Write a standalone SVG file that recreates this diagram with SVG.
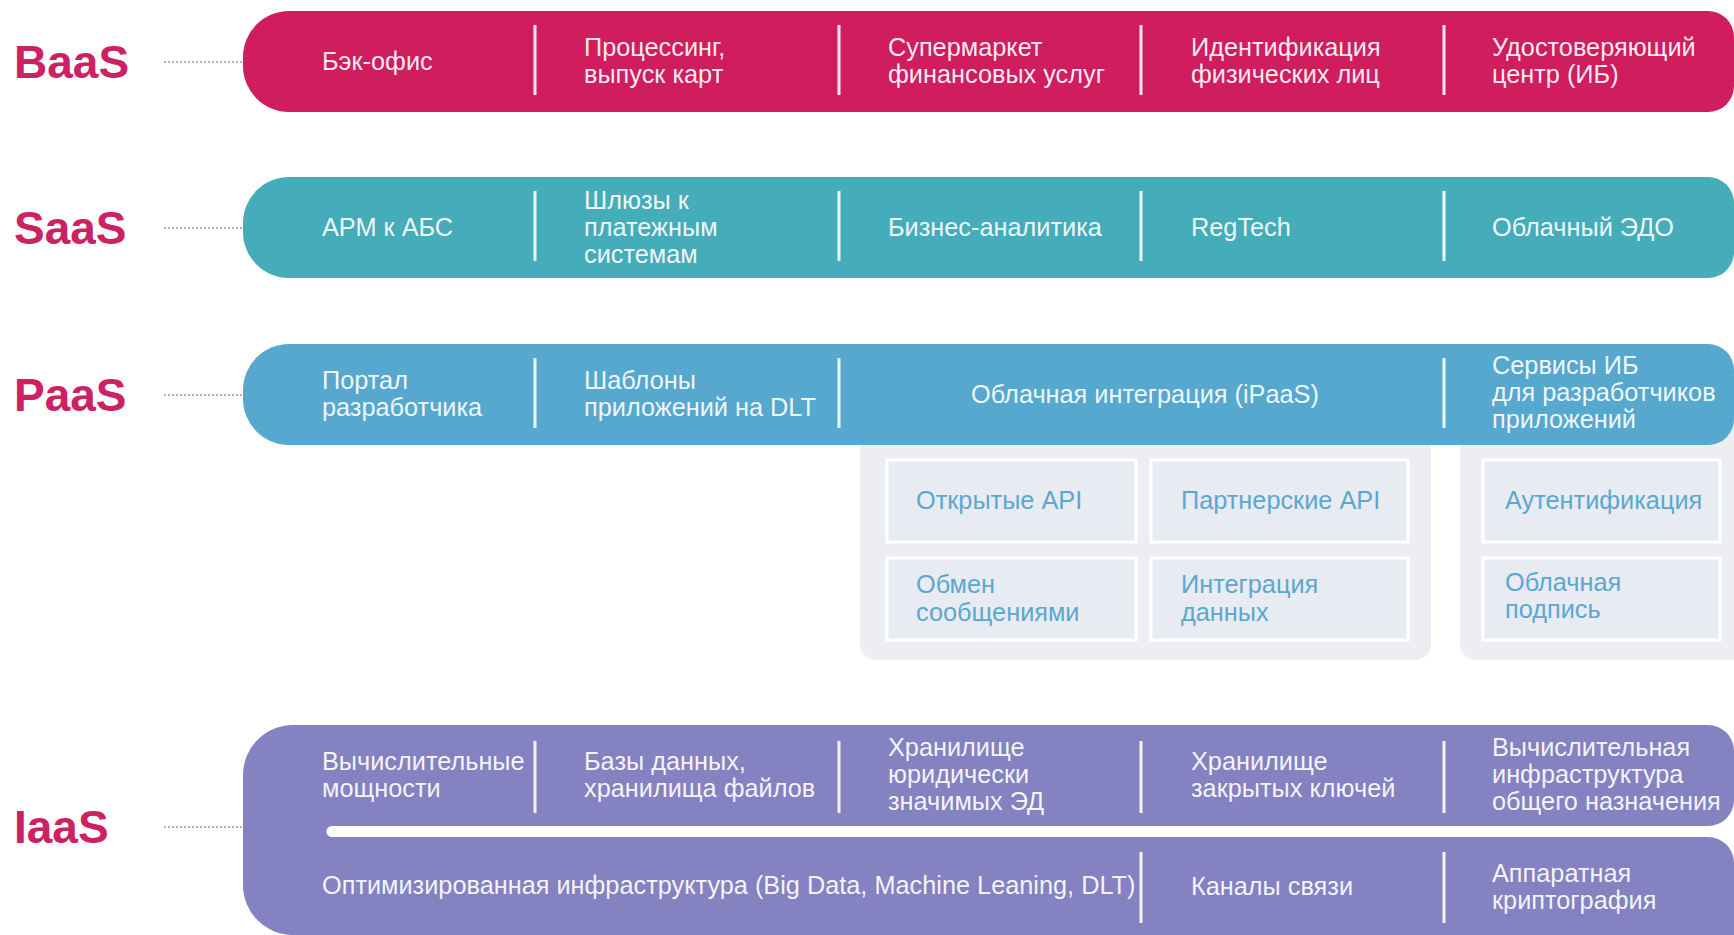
<svg xmlns="http://www.w3.org/2000/svg" width="1734" height="935" viewBox="0 0 1734 935">
<style>
.lbl{font-family:"Liberation Sans",Arial,sans-serif;font-weight:bold;font-size:46px;fill:#cc2162}
.t{font-family:"Liberation Sans",Arial,sans-serif;font-size:25.3px;fill:#ffffff;fill-opacity:0.93}
.st{font-family:"Liberation Sans",Arial,sans-serif;font-size:25.3px;fill:#5aa8cf}
.div{stroke:#ffffff;stroke-opacity:0.9;stroke-width:3}
.dot{stroke:#c9a9b6;stroke-width:2;stroke-dasharray:2 2}
.panel{fill:#eceef4}
.box{fill:#e9ebf2;stroke:#ffffff;stroke-width:3}
</style>
<rect width="1734" height="935" fill="#ffffff"/>

<g id="connectors">
<line class="dot" x1="164" y1="62" x2="243" y2="62"/>
<line class="dot" x1="164" y1="228" x2="243" y2="228"/>
<line class="dot" x1="164" y1="395" x2="243" y2="395"/>
<line class="dot" x1="164" y1="827" x2="243" y2="827"/>
</g>

<g id="labels">
<text class="lbl" x="14" y="78">BaaS</text>
<text class="lbl" x="14" y="244">SaaS</text>
<text class="lbl" x="14" y="411">PaaS</text>
<text class="lbl" x="14" y="843">IaaS</text>
</g>

<g id="paas-subpanels">
<rect class="panel" x="860" y="420" width="571" height="240" rx="16"/>
<rect class="panel" x="1460" y="420" width="300" height="240" rx="16"/>
<g id="open-api"><rect class="box" x="887" y="460" width="249" height="82"/><text class="st" x="916" y="509">Открытые API</text></g>
<g id="partner-api"><rect class="box" x="1151" y="460" width="257" height="82"/><text class="st" x="1181" y="509">Партнерские API</text></g>
<g id="messaging"><rect class="box" x="887" y="558" width="249" height="82"/><text class="st" x="916" y="593">Обмен</text><text class="st" x="916" y="621">сообщениями</text></g>
<g id="data-integration"><rect class="box" x="1151" y="558" width="257" height="82"/><text class="st" x="1181" y="593">Интеграция</text><text class="st" x="1181" y="621">данных</text></g>
<g id="auth"><rect class="box" x="1483" y="460" width="237" height="82"/><text class="st" x="1505" y="509">Аутентификация</text></g>
<g id="cloud-sign"><rect class="box" x="1483" y="558" width="237" height="82"/><text class="st" x="1505" y="591">Облачная</text><text class="st" x="1505" y="618">подпись</text></g>
</g>

<g id="baas">
<path d="M289,11 H1708 A26,26 0 0 1 1734,37 V86 A26,26 0 0 1 1708,112 H289 A46,46 0 0 1 243,66 V57 A46,46 0 0 1 289,11 Z" fill="#cf1d5d"/>
<line class="div" x1="535" y1="25" x2="535" y2="95"/>
<line class="div" x1="839" y1="25" x2="839" y2="95"/>
<line class="div" x1="1141" y1="25" x2="1141" y2="95"/>
<line class="div" x1="1444" y1="25" x2="1444" y2="95"/>
<text class="t" x="322" y="70">Бэк-офис</text>
<text class="t" x="584" y="56">Процессинг,</text><text class="t" x="584" y="83">выпуск карт</text>
<text class="t" x="888" y="56">Супермаркет</text><text class="t" x="888" y="83">финансовых услуг</text>
<text class="t" x="1191" y="56">Идентификация</text><text class="t" x="1191" y="83">физических лиц</text>
<text class="t" x="1492" y="56">Удостоверяющий</text><text class="t" x="1492" y="83">центр (ИБ)</text>
</g>

<g id="saas">
<path d="M289,177 H1708 A26,26 0 0 1 1734,203 V252 A26,26 0 0 1 1708,278 H289 A46,46 0 0 1 243,232 V223 A46,46 0 0 1 289,177 Z" fill="#45adb9"/>
<line class="div" x1="535" y1="191" x2="535" y2="261"/>
<line class="div" x1="839" y1="191" x2="839" y2="261"/>
<line class="div" x1="1141" y1="191" x2="1141" y2="261"/>
<line class="div" x1="1444" y1="191" x2="1444" y2="261"/>
<text class="t" x="322" y="236">АРМ к АБС</text>
<text class="t" x="584" y="209">Шлюзы к</text><text class="t" x="584" y="236">платежным</text><text class="t" x="584" y="263">системам</text>
<text class="t" x="888" y="236">Бизнес-аналитика</text>
<text class="t" x="1191" y="236">RegTech</text>
<text class="t" x="1492" y="236">Облачный ЭДО</text>
</g>

<g id="paas">
<path d="M289,344 H1708 A26,26 0 0 1 1734,370 V419 A26,26 0 0 1 1708,445 H289 A46,46 0 0 1 243,399 V390 A46,46 0 0 1 289,344 Z" fill="#56a8cf"/>
<line class="div" x1="535" y1="358" x2="535" y2="428"/>
<line class="div" x1="839" y1="358" x2="839" y2="428"/>
<line class="div" x1="1444" y1="358" x2="1444" y2="428"/>
<text class="t" x="322" y="389">Портал</text><text class="t" x="322" y="416">разработчика</text>
<text class="t" x="584" y="389">Шаблоны</text><text class="t" x="584" y="416">приложений на DLT</text>
<text class="t" x="1145" y="403" text-anchor="middle">Облачная интеграция (iPaaS)</text>
<text class="t" x="1492" y="374">Сервисы ИБ</text><text class="t" x="1492" y="401">для разработчиков</text><text class="t" x="1492" y="428">приложений</text>
</g>

<g id="iaas">
<path d="M293,725 H1708 A26,26 0 0 1 1734,751 V800 A26,26 0 0 1 1708,826 H243 V775 A50,50 0 0 1 293,725 Z" fill="#8482c0"/>
<path d="M243,837 H1708 A26,26 0 0 1 1734,863 V935 H293 A50,50 0 0 1 243,885 Z" fill="#8482c0"/>
<rect x="243" y="820" width="100" height="22" fill="#8482c0"/>
<line x1="332" y1="831.5" x2="1740" y2="831.5" stroke="#ffffff" stroke-width="11" stroke-linecap="round"/>
<line class="div" x1="535" y1="741" x2="535" y2="813"/>
<line class="div" x1="839" y1="741" x2="839" y2="813"/>
<line class="div" x1="1141" y1="741" x2="1141" y2="813"/>
<line class="div" x1="1444" y1="741" x2="1444" y2="813"/>
<line class="div" x1="1141" y1="852" x2="1141" y2="923"/>
<line class="div" x1="1444" y1="852" x2="1444" y2="923"/>
<text class="t" x="322" y="770">Вычислительные</text><text class="t" x="322" y="797">мощности</text>
<text class="t" x="584" y="770">Базы данных,</text><text class="t" x="584" y="797">хранилища файлов</text>
<text class="t" x="888" y="756">Хранилище</text><text class="t" x="888" y="783">юридически</text><text class="t" x="888" y="810">значимых ЭД</text>
<text class="t" x="1191" y="770">Хранилище</text><text class="t" x="1191" y="797">закрытых ключей</text>
<text class="t" x="1492" y="756">Вычислительная</text><text class="t" x="1492" y="783">инфраструктура</text><text class="t" x="1492" y="810">общего назначения</text>
<text class="t" x="322" y="894">Оптимизированная инфраструктура (Big Data, Machine Leaning, DLT)</text>
<text class="t" x="1191" y="895">Каналы связи</text>
<text class="t" x="1492" y="882">Аппаратная</text><text class="t" x="1492" y="909">криптография</text>
</g>
</svg>
